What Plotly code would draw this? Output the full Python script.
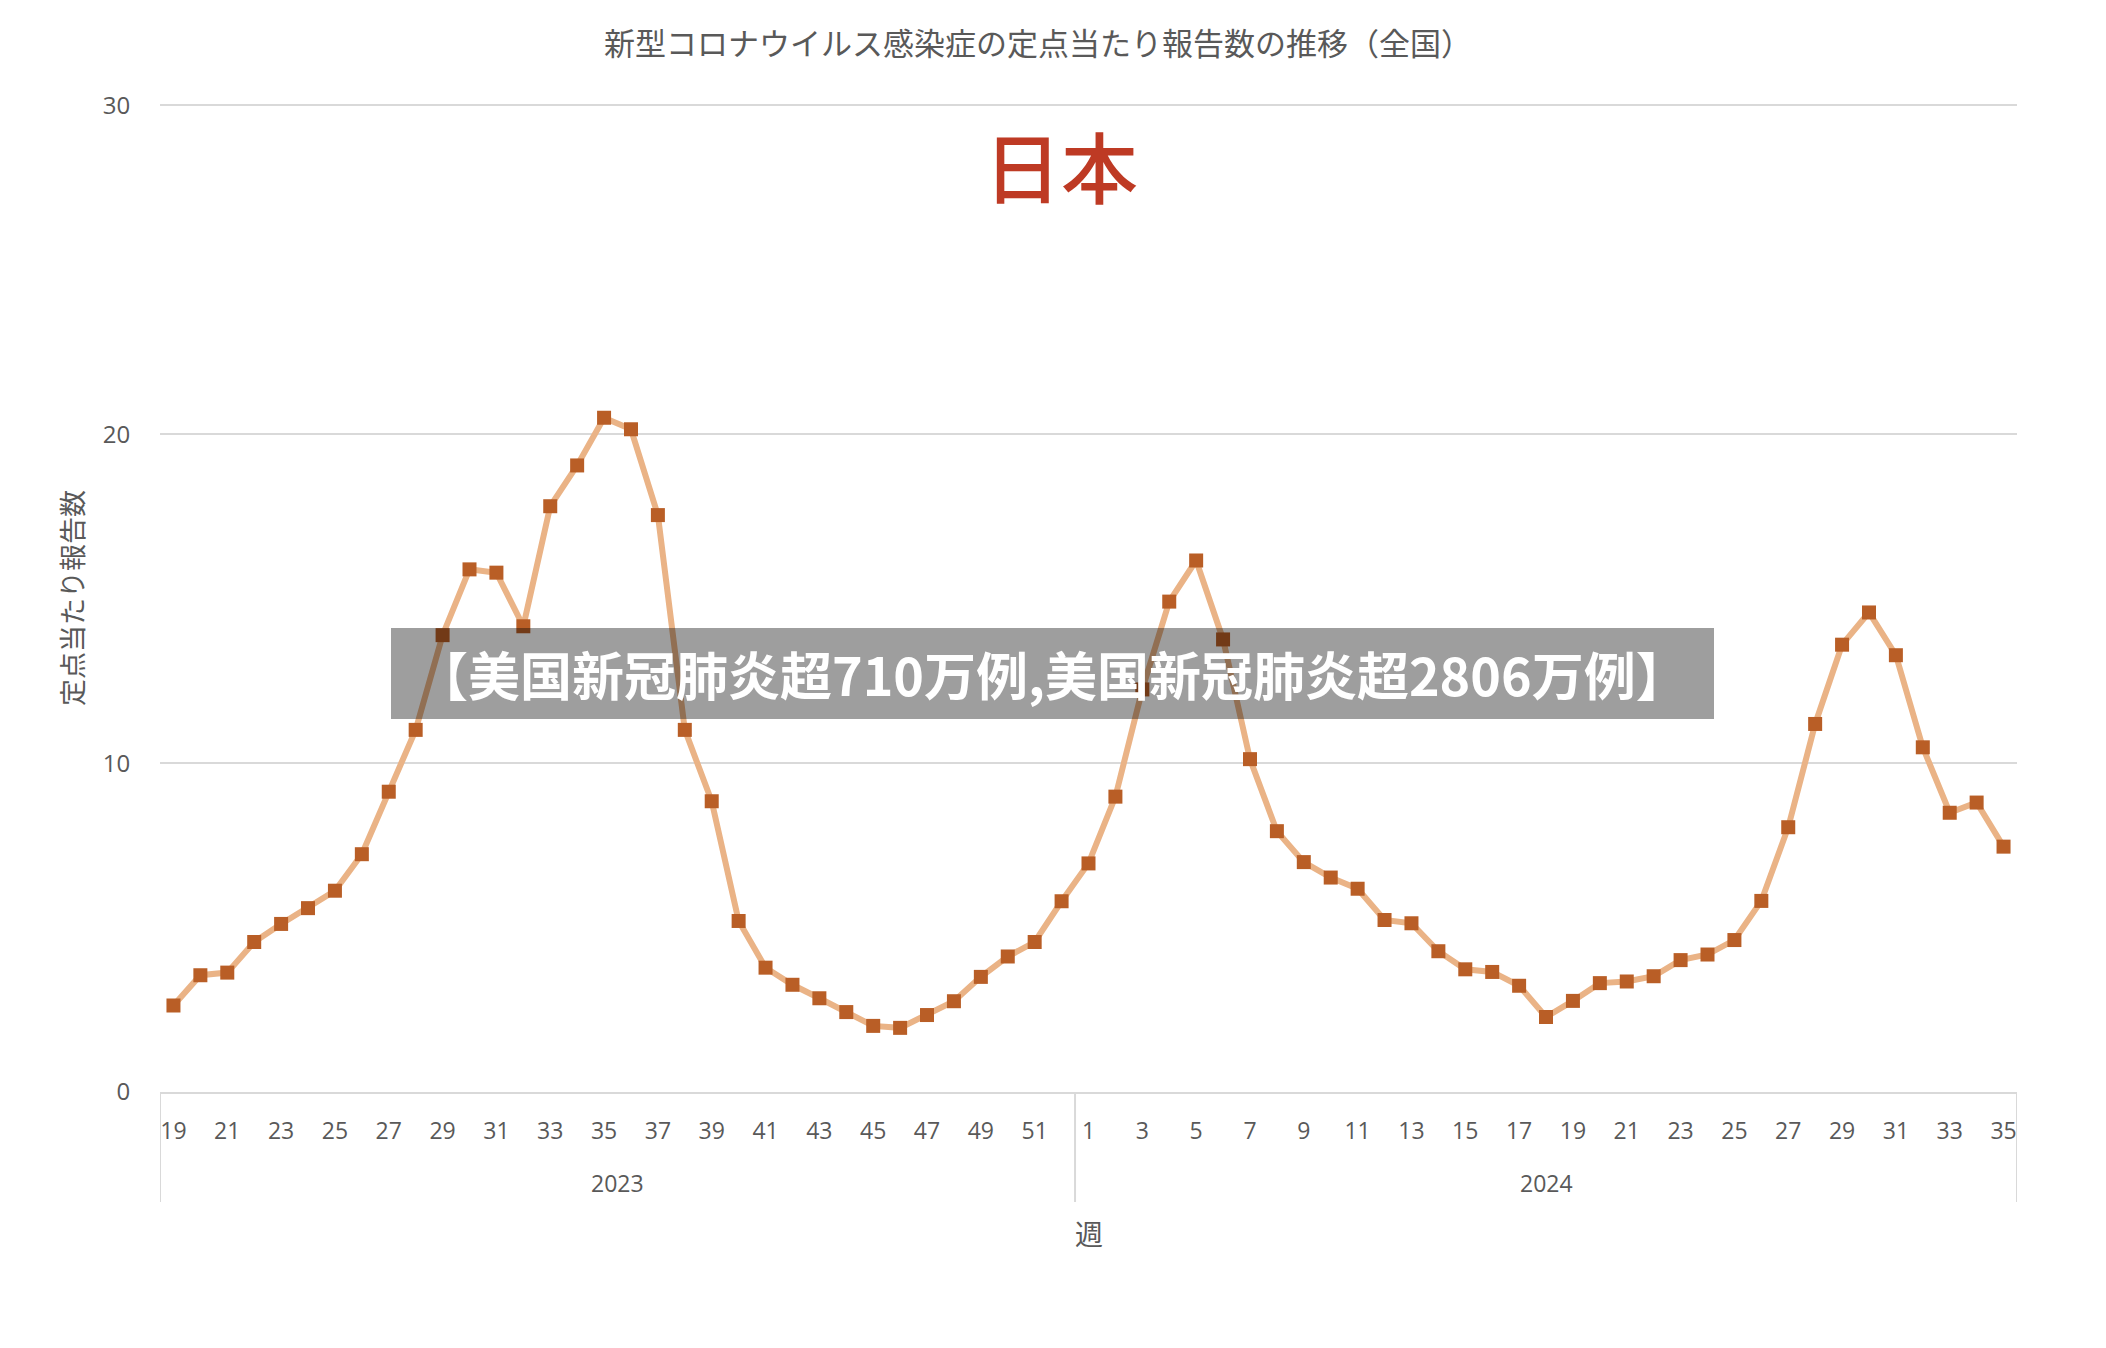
import plotly.graph_objects as go

# ---- data ----
weeks_2023 = list(range(19, 53))
weeks_2024 = list(range(1, 36))
values_2023 = [2.63, 3.55, 3.63, 4.56, 5.11, 5.59, 6.12, 7.23, 9.13, 11.01,
               13.89, 15.89, 15.79, 14.16, 17.81, 19.05, 20.50, 20.15, 17.54, 11.01,
               8.84, 5.20, 3.78, 3.26, 2.85, 2.43, 2.01, 1.95, 2.34, 2.76,
               3.50, 4.12, 4.56, 5.80]
values_2024 = [6.95, 8.98, 12.24, 14.91, 16.16, 13.76, 10.12, 7.93, 6.99, 6.52,
               6.18, 5.23, 5.13, 4.28, 3.73, 3.65, 3.23, 2.28, 2.77, 3.31,
               3.36, 3.52, 4.01, 4.18, 4.62, 5.81, 8.05, 11.19, 13.60, 14.58,
               13.28, 10.48, 8.49, 8.80, 7.46]
years = ["2023", "2024"]
y_ticks = [0, 10, 20, 30]

title_text = "新型コロナウイルス感染症の定点当たり報告数の推移（全国）"
country_text = "日本"
y_title = "定点当たり報告数"
x_title = "週"
banner_text = "【美国新冠肺炎超710万例,美国新冠肺炎超2806万例】"

# ---- build categories ----
cats = [f"{years[0]}-{w}" for w in weeks_2023] + [f"{years[1]}-{w}" for w in weeks_2024]
week_nums = weeks_2023 + weeks_2024
values = values_2023 + values_2024
tickvals = [c for c, w in zip(cats, week_nums) if w % 2 == 1]
ticktext = [str(w) for w in week_nums if w % 2 == 1]

n23, n24 = len(weeks_2023), len(weeks_2024)

LINE_C = "#EAB386"
MARK_C = "#B95E26"
GRAY = "#595959"
GRID = "#D9D9D9"
NUM_FONT = "Open Sans"
CJK_FONT = "Noto Sans CJK JP"

fig = go.Figure()
fig.add_trace(go.Scatter(
    x=cats, y=values, mode="lines+markers",
    line=dict(color=LINE_C, width=6),
    marker=dict(symbol="square", size=14, color=MARK_C, line=dict(width=0)),
    showlegend=False, hoverinfo="x+y",
))

W, H = 2106, 1348
Y_TOP = 30.1
T = 102
L, R, B = 160, 2106 - 2017, 1348 - 1092
pw, ph = W - L - R, H - T - B

def px_x(px):
    return (px - L) / pw

def px_y(py):
    return (H - B - py) / ph

fig.update_layout(
    width=W, height=H,
    margin=dict(l=L, r=R, t=T, b=B, pad=0),
    paper_bgcolor="white", plot_bgcolor="white",
    font=dict(family=CJK_FONT, color=GRAY),
    title=dict(text=title_text, x=1038 / W, xanchor="center",
               y=1 - 44 / H, yanchor="middle",
               font=dict(family=CJK_FONT, size=31, color=GRAY)),
    xaxis=dict(
        type="category", categoryorder="array", categoryarray=cats,
        range=[-0.5, len(cats) - 0.5],
        tickmode="array", tickvals=tickvals, ticktext=ticktext,
        tickfont=dict(family=NUM_FONT, size=23, color=GRAY),
        ticks="outside", ticklen=17, tickcolor="rgba(0,0,0,0)",
        showgrid=False, showline=True, linecolor=GRID, linewidth=2,
        zeroline=False, fixedrange=True,
    ),
    yaxis=dict(
        range=[0, Y_TOP], tickvals=y_ticks,
        tickfont=dict(family=NUM_FONT, size=24, color=GRAY),
        ticks="outside", ticklen=24, tickcolor="rgba(0,0,0,0)",
        showgrid=True, gridcolor=GRID, gridwidth=2,
        zeroline=False, showline=False, fixedrange=True,
    ),
)

# year group dividers
for xv in [-0.5, n23 - 0.5, n23 + n24 - 0.5]:
    fig.add_shape(type="line", xref="x", yref="paper",
                  x0=xv, x1=xv, y0=0, y1=px_y(1202),
                  line=dict(color=GRID, width=2), layer="below")

# year labels
for yr, center in [(years[0], (n23 - 1) / 2), (years[1], n23 + (n24 - 1) / 2)]:
    fig.add_annotation(text=yr, xref="x", yref="paper", x=center, y=px_y(1183),
                       showarrow=False, font=dict(family=NUM_FONT, size=23, color=GRAY),
                       xanchor="center", yanchor="middle")

# axis titles
fig.add_annotation(text=x_title, xref="paper", yref="paper", x=px_x(1089), y=px_y(1233),
                   showarrow=False, font=dict(family=CJK_FONT, size=28, color=GRAY),
                   xanchor="center", yanchor="middle")
fig.add_annotation(text=y_title, xref="paper", yref="paper", x=px_x(71), y=px_y(598),
                   showarrow=False, textangle=-90,
                   font=dict(family=CJK_FONT, size=27, color=GRAY),
                   xanchor="center", yanchor="middle")

# big country label
fig.add_annotation(text=country_text, xref="paper", yref="paper", x=px_x(1061), y=px_y(165),
                   showarrow=False,
                   font=dict(family=CJK_FONT, size=77, color="#BE3A24", weight=500),
                   xanchor="center", yanchor="middle")

# watermark banner
fig.add_shape(type="rect", xref="paper", yref="paper",
              x0=px_x(391), x1=px_x(1714), y0=px_y(719), y1=px_y(628),
              fillcolor="rgba(0,0,0,0.38)", line=dict(width=0), layer="above")
fig.add_annotation(text=f"<b>{banner_text}</b>", xref="paper", yref="paper",
                   x=px_x(1052), y=px_y(673), showarrow=False,
                   font=dict(family="Noto Sans CJK SC", size=52, color="white"),
                   xanchor="center", yanchor="middle")

fig.write_html("out.html")
